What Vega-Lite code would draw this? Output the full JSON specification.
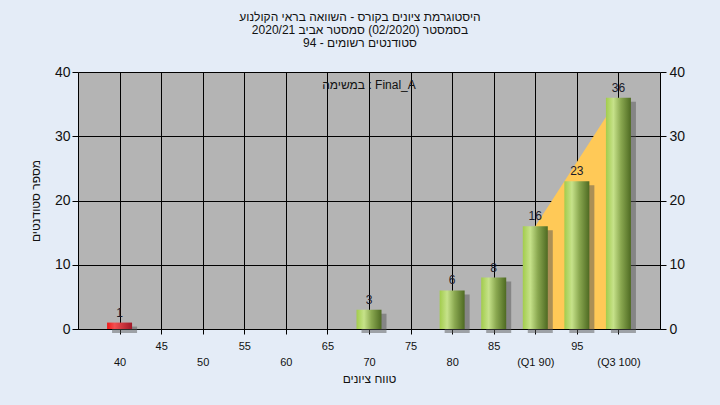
{
  "$schema": "https://vega.github.io/schema/vega-lite/v6.json",
  "width": 582,
  "height": 257,
  "autosize": {"type": "none"},
  "padding": {"left": 78, "top": 72, "right": 60, "bottom": 76},
  "background": "#e4ecf7",
  "title": {
    "text": ["היסטוגרמת ציונים בקורס - השוואה בראי הקולנוע", "בסמסטר  (02/2020)  סמסטר אביב 2020/21", "סטודנטים רשומים - 94"],
    "fontSize": 12,
    "font": "Liberation Sans",
    "fontWeight": "normal",
    "color": "#111111",
    "anchor": "middle",
    "frame": "group",
    "dx": -9,
    "lineHeight": 13,
    "offset": 15
  },
  "datasets": {
    "grades": [
      {"grade": 40, "count": 1},
      {"grade": 70, "count": 3},
      {"grade": 80, "count": 6},
      {"grade": 85, "count": 8},
      {"grade": 90, "count": 16},
      {"grade": 95, "count": 23},
      {"grade": 100, "count": 36}
    ],
    "quartiles": [
      {"grade": 90, "count": 16},
      {"grade": 100, "count": 36}
    ]
  },
  "data": {"name": "grades"},
  "resolve": {"axis": {"y": "independent"}},
  "layer": [
    {
      "data": {"name": "quartiles"},
      "mark": {"type": "area", "color": "#ffc957", "opacity": 1},
      "encoding": {
        "x": {
          "field": "grade", "type": "quantitative",
          "scale": {"domain": [35, 105], "nice": false, "zero": false, "padding": 0},
          "axis": {
            "orient": "bottom",
            "values": [40, 45, 50, 55, 60, 65, 70, 75, 80, 85, 90, 95, 100],
            "labelExpr": "datum.value == 90 ? [' ', '(Q1 90)'] : datum.value == 100 ? [' ', '(Q3 100)'] : datum.value % 10 == 0 ? [' ', datum.label] : datum.label",
            "labelLineHeight": 16,
            "labelOverlap": false,
            "grid": true, "gridColor": "#000000", "gridOpacity": 1, "gridWidth": 1,
            "ticks": true, "tickColor": "#000000", "tickSize": 5,
            "domain": true, "domainColor": "#000000", "domainWidth": 1,
            "labelPadding": 6, "labelFontSize": 11, "labelFont": "Liberation Sans", "labelColor": "#111111",
            "title": "טווח ציונים", "titleFontSize": 12, "titleFont": "Liberation Sans", "titleFontWeight": "normal", "titleColor": "#111111", "titlePadding": 6
          }
        },
        "y": {
          "field": "count", "type": "quantitative",
          "scale": {"domain": [0, 40], "nice": false, "padding": 0},
          "axis": {
            "orient": "left",
            "values": [0, 10, 20, 30, 40],
            "grid": true, "gridColor": "#000000", "gridOpacity": 1, "gridWidth": 1,
            "ticks": true, "tickColor": "#000000", "tickSize": 6,
            "domain": true, "domainColor": "#000000", "domainWidth": 1,
            "labelPadding": 2, "labelFontSize": 14, "labelFont": "Liberation Sans", "labelColor": "#111111",
            "title": "מספר סטודנטים", "titleFontSize": 12, "titleFont": "Liberation Sans", "titleFontWeight": "normal", "titleColor": "#111111", "titlePadding": 12
          }
        }
      }
    },
    {
      "mark": {"type": "bar", "width": 25, "color": "#555555", "opacity": 0.5, "xOffset": 5, "yOffset": 4, "clip": false},
      "encoding": {
        "x": {"field": "grade", "type": "quantitative"},
        "y": {
          "field": "count", "type": "quantitative",
          "axis": {
            "orient": "right",
            "values": [0, 10, 20, 30, 40],
            "grid": false,
            "ticks": true, "tickColor": "#000000", "tickSize": 6,
            "domain": true, "domainColor": "#000000", "domainWidth": 1,
            "labelPadding": 3, "labelFontSize": 14, "labelFont": "Liberation Sans", "labelColor": "#111111",
            "title": null
          }
        }
      }
    },
    {
      "transform": [{"filter": "datum.grade != 40"}],
      "mark": {
        "type": "bar", "width": 25,
        "fill": {"gradient": "linear", "x1": 0, "x2": 1, "y1": 0, "y2": 0,
          "stops": [
            {"offset": 0, "color": "#a2cc4c"},
            {"offset": 0.3, "color": "#c6e28a"},
            {"offset": 0.6, "color": "#8aa850"},
            {"offset": 1, "color": "#4e6a22"}
          ]}
      },
      "encoding": {
        "x": {"field": "grade", "type": "quantitative"},
        "y": {"field": "count", "type": "quantitative", "axis": null}
      }
    },
    {
      "transform": [{"filter": "datum.grade == 40"}],
      "mark": {
        "type": "bar", "width": 25,
        "fill": {"gradient": "linear", "x1": 0, "x2": 1, "y1": 0, "y2": 0,
          "stops": [
            {"offset": 0, "color": "#f01818"},
            {"offset": 0.3, "color": "#f25050"},
            {"offset": 1, "color": "#a01828"}
          ]}
      },
      "encoding": {
        "x": {"field": "grade", "type": "quantitative"},
        "y": {"field": "count", "type": "quantitative", "axis": null}
      }
    },
    {
      "mark": {"type": "text", "baseline": "alphabetic", "dy": -6, "fontSize": 12, "font": "Liberation Sans", "color": "#1a1a2a"},
      "encoding": {
        "x": {"field": "grade", "type": "quantitative"},
        "y": {"field": "count", "type": "quantitative", "axis": null},
        "text": {"field": "count", "type": "quantitative"}
      }
    },
    {
      "data": {"values": [{"label": "במשימה : Final_A"}]},
      "mark": {"type": "text", "baseline": "middle", "align": "center", "fontSize": 12, "font": "Liberation Sans", "color": "#111111"},
      "encoding": {
        "x": {"datum": 70, "type": "quantitative"},
        "y": {"datum": 38, "type": "quantitative", "axis": null},
        "text": {"field": "label", "type": "nominal"}
      }
    }
  ],
  "config": {
    "view": {"fill": "#b4b4b4", "stroke": null},
    "font": "Liberation Sans"
  }
}
